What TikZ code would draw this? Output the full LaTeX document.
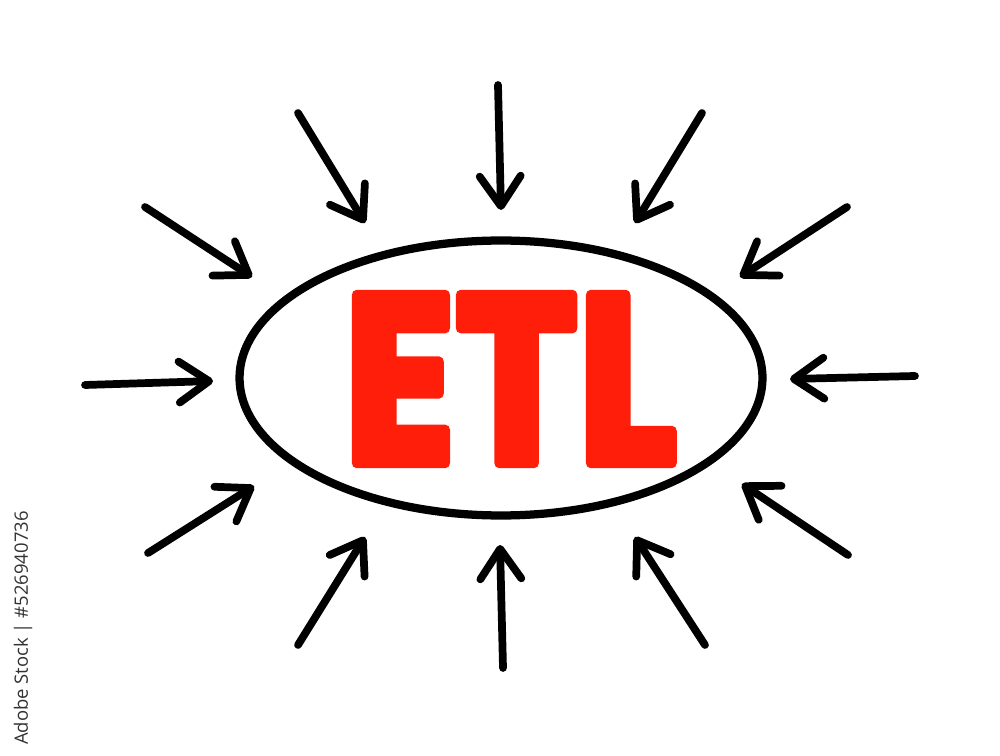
\documentclass[tikz,border=0pt]{standalone}
\usepackage{graphicx}
\usepackage{fontspec}
\usepackage{xcolor}
\definecolor{etlred}{RGB}{255, 30, 10}
\definecolor{stockgray}{RGB}{50, 50, 50}
\newfontfamily\etlfont{Poppins}
\newfontfamily\stockfont{Open Sans}
\newcommand\roundtext[1]{\special{pdf:literal direct 2 Tr 1 j 1 J 0.45 w 1 0.118 0.039 RG}#1\special{pdf:literal direct 0 Tr}}
\usepackage{tikz}
\usetikzlibrary{shapes.geometric, arrows.meta, positioning}

\begin{document}
\begin{tikzpicture}[> = {Straight Barb[round, length=0.6cm, width=0.82cm]}, x=0.02cm, y=-0.02cm,
		pointer/.style={->, line width=4.4pt, line cap=round}]
			\useasboundingbox (0,0) rectangle (1000,756);
			
			\node [draw, ellipse, line width=4.7pt, minimum width=10.46cm, minimum height=5.5cm] (oval) at (501,378) {};
			\node [text=etlred] (etl) at (510,379) {\resizebox{6.65cm}{3.35cm}{\etlfont\bfseries\roundtext{ETL}}};
			
			\coordinate (tT) at (498,85);   \coordinate (hT) at (501,210);
			\coordinate (tTL) at (298,113); \coordinate (hTL) at (365,223);
			\coordinate (tTR) at (702,113); \coordinate (hTR) at (635,223);
			\coordinate (tUL) at (145,207); \coordinate (hUL) at (252,277);
			\coordinate (tUR) at (847,207); \coordinate (hUR) at (740,277);
			\coordinate (tL) at (85,385);   \coordinate (hL) at (213,381);
			\coordinate (tR) at (915,376);  \coordinate (hR) at (790,379);
			\coordinate (tLL) at (148,553); \coordinate (hLL) at (254,486);
			\coordinate (tLR) at (848,555); \coordinate (hLR) at (742,484);
			\coordinate (tBL) at (298,645); \coordinate (hBL) at (365,537);
			\coordinate (tB) at (503,668);  \coordinate (hB) at (500,545);
			\coordinate (tBR) at (705,645); \coordinate (hBR) at (635,537);
			
			\draw [pointer] (tT) -- (hT);
			\draw [pointer] (tTL) -- (hTL);
			\draw [pointer] (tTR) -- (hTR);
			\draw [pointer] (tUL) -- (hUL);
			\draw [pointer] (tUR) -- (hUR);
			\draw [pointer] (tL) -- (hL);
			\draw [pointer] (tR) -- (hR);
			\draw [pointer] (tLL) -- (hLL);
			\draw [pointer] (tLR) -- (hLR);
			\draw [pointer] (tBL) -- (hBL);
			\draw [pointer] (tB) -- (hB);
			\draw [pointer] (tBR) -- (hBR);
			
			\node [rotate=90, text=stockgray, font=\stockfont\fontsize{10.5}{12}\selectfont] (stock) at (23,628) {Adobe Stock | \#526940736};
		\end{tikzpicture}
\end{document}
